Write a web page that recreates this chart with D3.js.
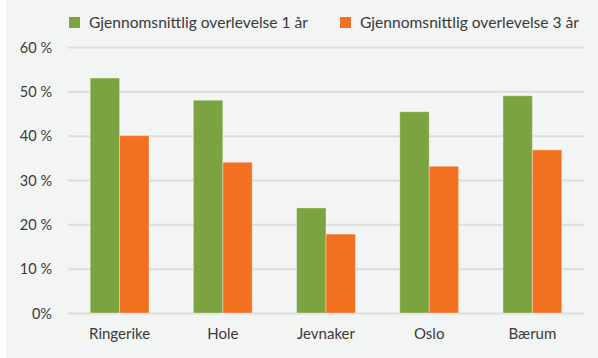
<!DOCTYPE html>
<html>
<head>
<meta charset="utf-8">
<script src="https://cdn.jsdelivr.net/npm/d3@7"></script>
<style>
  html, body { margin: 0; padding: 0; background: #ffffff; }
  svg { display: block; }
  text { font-family: Lato, "Open Sans", sans-serif; fill: #3a3a3a; }
</style>
</head>
<body>
<svg id="chart" width="598" height="358"></svg>
<script>
const categories = ["Ringerike", "Hole", "Jevnaker", "Oslo", "Bærum"];
const seriesNames = ["Gjennomsnittlig overlevelse 1 år", "Gjennomsnittlig overlevelse 3 år"];
const survival1yr = [53, 48, 23.7, 45.4, 49];
const survival3yr = [40, 34, 17.8, 33.1, 36.8];
const yTicks = [0, 10, 20, 30, 40, 50, 60];
const yTickLabels = ["0%", "10 %", "20 %", "30 %", "40 %", "50 %", "60 %"];
const colors = ["#7ba441", "#f37021"];

const svg = d3.select("#chart");
const W = 598, H = 358;
const margin = { left: 68, right: 14, top: 47, bottom: 45 };

// panel background
svg.append("rect").attr("x", 6).attr("y", 0).attr("width", W - 6).attr("height", H).attr("fill", "#f3f4f4");

const x = d3.scaleBand().domain(categories).range([margin.left, W - margin.right]).paddingInner(0.43).paddingOuter(0.215);
const xs = d3.scaleBand().domain([0, 1]).range([0, x.bandwidth()]);
const y = d3.scaleLinear().domain([0, 60]).range([H - margin.bottom, margin.top]);

// gridlines
const yAxis = d3.axisLeft(y).tickValues(yTicks).tickSize(-(W - margin.right - margin.left))
  .tickFormat((d, i) => yTickLabels[i]).tickPadding(16);
const gy = svg.append("g").attr("transform", `translate(${margin.left},0)`).call(yAxis);
gy.select(".domain").remove();
gy.selectAll(".tick line").attr("stroke", "#dcdddd").attr("stroke-width", 2);
gy.selectAll(".tick text").attr("font-size", 14.5).attr("fill", "#3a3a3a").attr("dy", "0.35em");

// bars
const rows = categories.map((c, i) => ({ c, v: [survival1yr[i], survival3yr[i]] }));
const groups = svg.append("g").selectAll("g").data(rows).join("g")
  .attr("transform", d => `translate(${x(d.c)},0)`);
groups.selectAll("rect").data(d => d.v.map((v, k) => ({ v, k }))).join("rect")
  .attr("x", d => xs(d.k))
  .attr("width", xs.bandwidth())
  .attr("y", d => y(d.v))
  .attr("height", d => y(0) - y(d.v))
  .attr("fill", d => colors[d.k])
  .attr("stroke", "rgba(255,255,255,0.35)")
  .attr("stroke-width", 1);

// category axis
const xAxis = d3.axisBottom(x).tickSize(0).tickPadding(15);
const gx = svg.append("g").attr("transform", `translate(0,${y(0)})`).call(xAxis);
gx.select(".domain").remove();
gx.selectAll(".tick text").attr("font-size", 15).attr("fill", "#3a3a3a");

// legend
const legendX = [69, 340];
const lg = svg.append("g").selectAll("g").data(seriesNames).join("g")
  .attr("transform", (d, i) => `translate(${legendX[i]},17)`);
lg.append("rect").attr("width", 11).attr("height", 11).attr("fill", (d, i) => colors[i]);
lg.append("text").attr("x", 20).attr("y", 10.5).attr("font-size", 15.6).text(d => d);
</script>
</body>
</html>
